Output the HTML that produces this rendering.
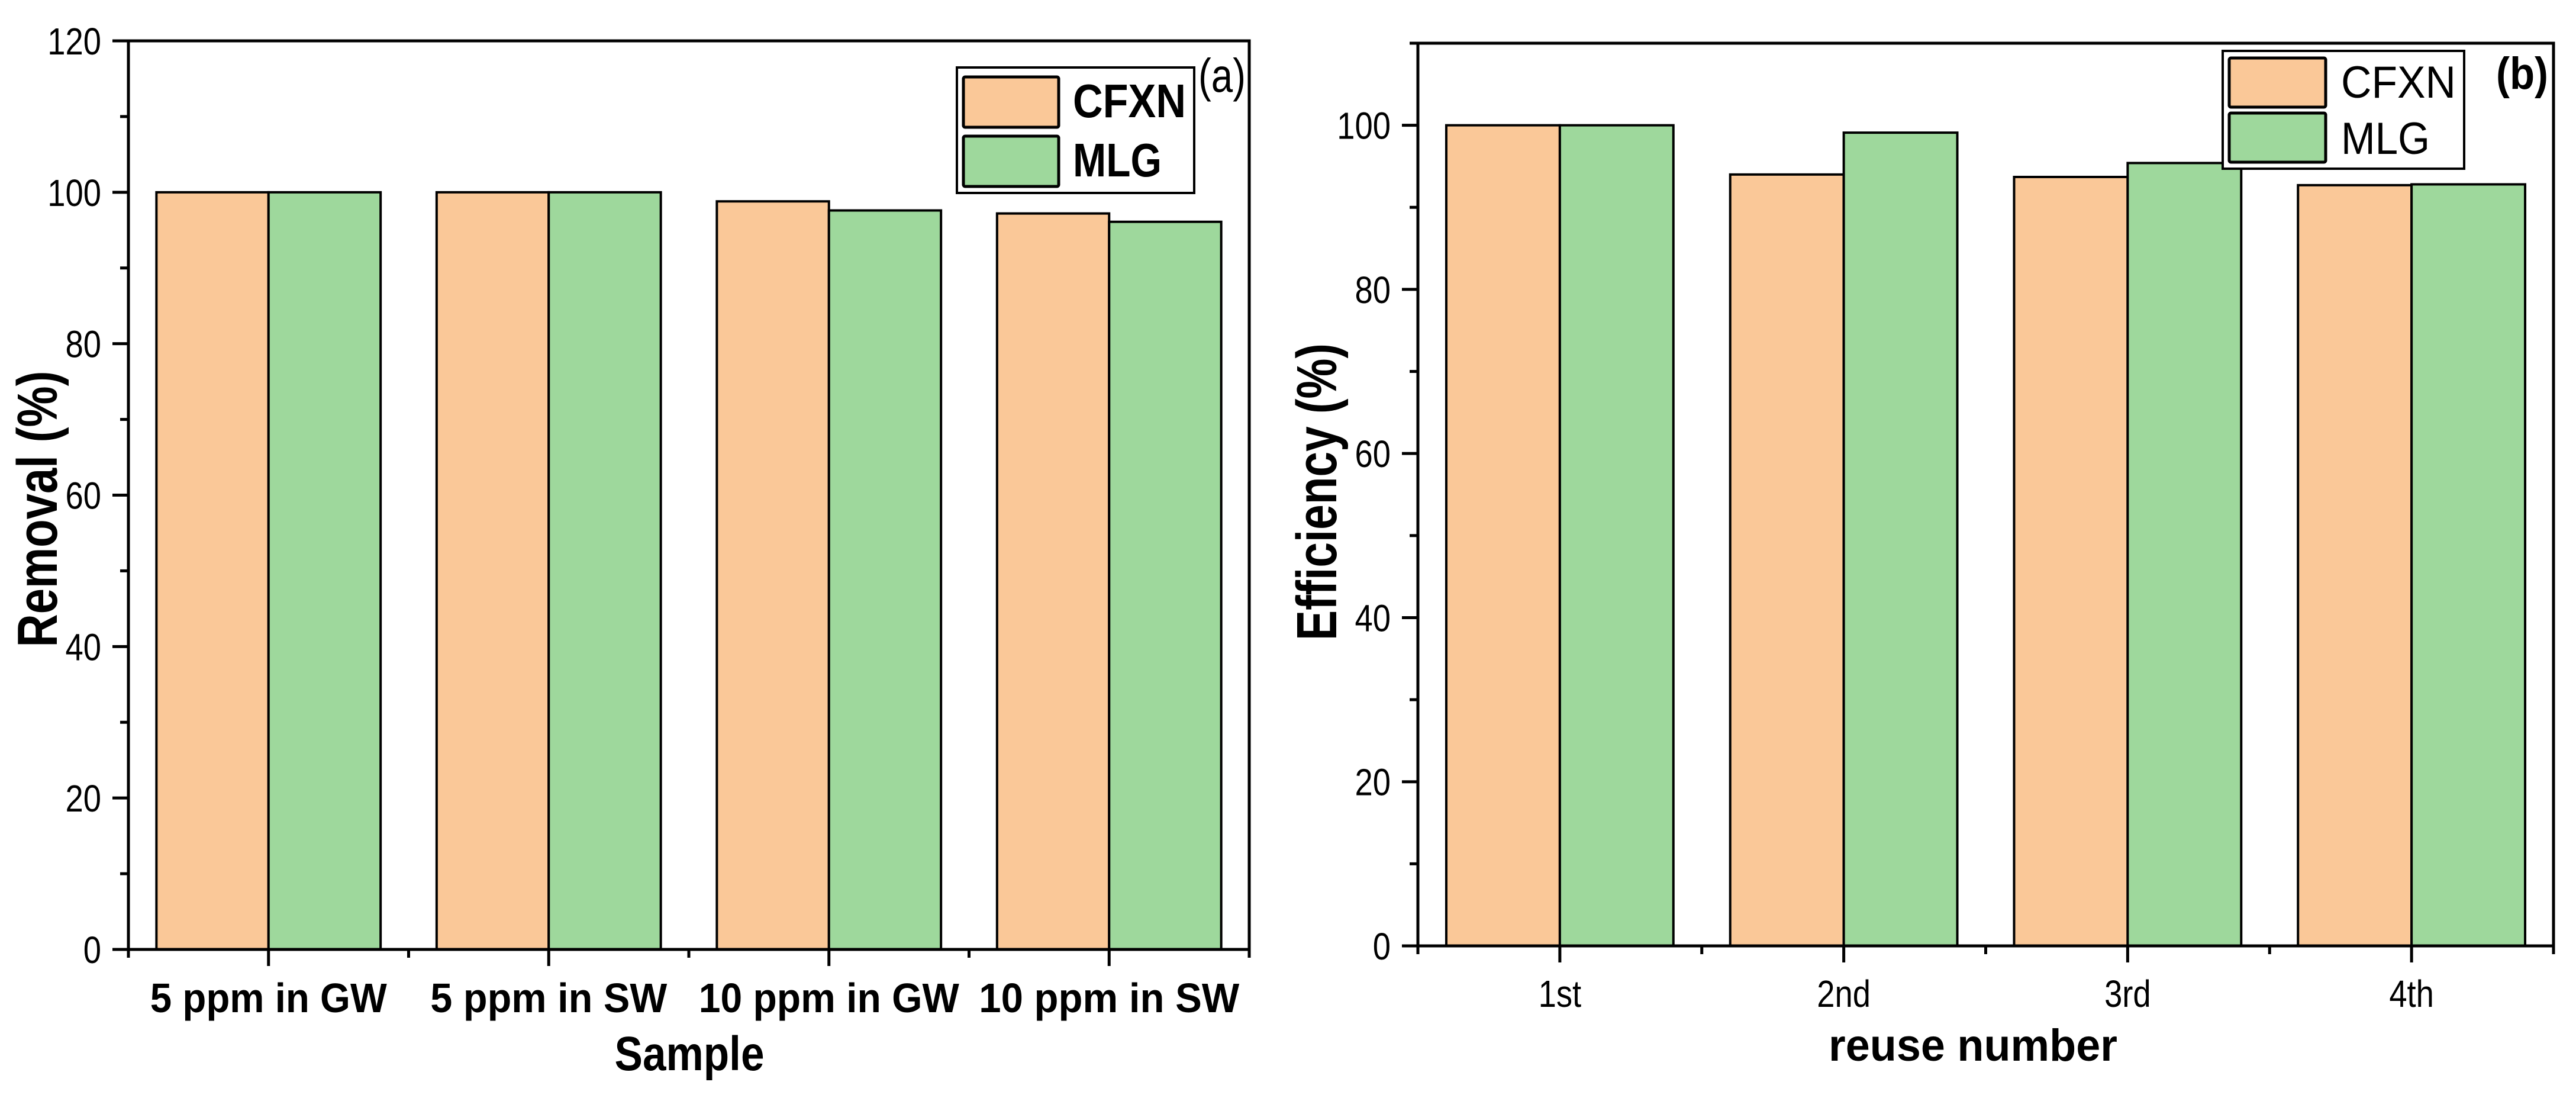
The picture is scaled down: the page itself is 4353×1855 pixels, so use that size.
<!DOCTYPE html>
<html><head><meta charset="utf-8"><style>
html,body{margin:0;padding:0;background:#fff;}
svg{display:block;}
text{font-family:"Liberation Sans",sans-serif;fill:#000;}
</style></head><body>
<svg id="fig" width="4353" height="1855" viewBox="0 0 4353 1855" xmlns="http://www.w3.org/2000/svg"></svg>
<script>
// ---- data ----
const catsA = ["5 ppm in GW","5 ppm in SW","10 ppm in GW","10 ppm in SW"];
const cfxnA = [100, 100, 98.8, 97.2];
const mlgA = [100, 100, 97.6, 96.1];
const ticksA = [0,20,40,60,80,100,120];
const catsB = ["1st","2nd","3rd","4th"];
const cfxnB = [100, 94.0, 93.7, 92.7];
const mlgB = [100, 99.1, 95.4, 92.8];
const ticksB = [0,20,40,60,80,100];
const seriesNames = ["CFXN","MLG"];

const NS="http://www.w3.org/2000/svg";
const svg=document.getElementById('fig');
function mk(tag,attrs,parent){const e=document.createElementNS(NS,tag);for(const k in attrs)e.setAttribute(k,attrs[k]);(parent||svg).appendChild(e);return e;}

function panel(o){
  const g=mk('g',{});
  
  
  const L=o.L,R=o.R,T=o.T,B=o.B;
  const ys=v=>B-(v-0)/(o.ymax)*(B-o.ymaxPix);
  const n=o.cats.length, step=(R-L)/n;
  const xc=i=>L+(i+0.5)*step;
  const bw=0.4*step;
  // bars
  for(let i=0;i<n;i++){
    const r1=mk('rect',{x:xc(i)-bw,y:ys(o.s1[i]),width:bw,height:B-ys(o.s1[i]),fill:'#FAC898',stroke:'#000','stroke-width':4},g);
    
    
    const r2=mk('rect',{x:xc(i),y:ys(o.s2[i]),width:bw,height:B-ys(o.s2[i]),fill:'#9ED89C',stroke:'#000','stroke-width':4},g);
    
    
  }
  // frame
  const fr=mk('rect',{x:L,y:T,width:R-L,height:B-T,fill:'none',stroke:'#000','stroke-width':5},g);
  
  
  // y ticks
  for(let k=0;k<o.ticks.length;k++){
    const v=o.ticks[k];const y=ys(v);
    mk('line',{x1:L-27,y1:y,x2:L,y2:y,stroke:'#000','stroke-width':5},g);
    if(k<o.ticks.length-1 || o.ymax>=v){const ym=ys(v+10); if(v+10<=o.ymax) mk('line',{x1:L-14,y1:ym,x2:L,y2:ym,stroke:'#000','stroke-width':5},g);}
    const t=mk('text',{x:0,y:0,'font-size':64,'text-anchor':'end',transform:`translate(${L-46},${y+23}) scale(0.85,1)`},g);
    t.textContent=v;
    
    
  }
  // x ticks
  for(let i=0;i<=n;i++){const x=L+i*step;mk('line',{x1:x,y1:B,x2:x,y2:B+14,stroke:'#000','stroke-width':5},g);}
  for(let i=0;i<n;i++){
    mk('line',{x1:xc(i),y1:B,x2:xc(i),y2:B+28,stroke:'#000','stroke-width':5},g);
    const t=mk('text',{x:xc(i),y:o.xlabY,'font-size':o.xlabSize,'font-weight':o.xlabBold?'bold':'normal','text-anchor':'middle'},g);
    if(o.xlabLen) {t.setAttribute('textLength',o.xlabLen[i]);t.setAttribute('lengthAdjust','spacingAndGlyphs');}
    else t.setAttribute('transform',`translate(${xc(i)},0) scale(0.85,1) translate(${-xc(i)},0)`);
    t.textContent=o.cats[i];
    
    
  }
  // axis titles
  const xt=mk('text',{x:o.xtX,y:o.xtY,'font-size':o.xtSize,'font-weight':'bold','text-anchor':'middle',textLength:o.xtLen,lengthAdjust:'spacingAndGlyphs'},g);
  xt.textContent=o.xtitle;
  
  
  const yt=mk('text',{x:0,y:0,'font-size':96,'font-weight':'bold','text-anchor':'middle',textLength:o.ytLen,lengthAdjust:'spacingAndGlyphs',transform:`translate(${o.ytX},${o.ytY}) rotate(-90)`},g);
  yt.textContent=o.ytitle;
  
  
  // legend
  const lg=mk('g',{},g);
  
  
  mk('rect',{x:o.lg.x,y:o.lg.y,width:o.lg.w,height:o.lg.h,fill:'#fff',stroke:'#000','stroke-width':4},lg);
  const cols=['#FAC898','#9ED89C'];
  for(let s=0;s<2;s++){
    const sw=mk('rect',{x:o.lg.sx,y:o.lg.sy[s],width:o.lg.sw,height:o.lg.sh,fill:cols[s],stroke:'#000','stroke-width':5,rx:3},lg);
    
    
    const t=mk('text',{x:o.lg.tx,y:o.lg.ty[s],'font-size':o.lg.fs,'font-weight':o.lg.bold?'bold':'normal',textLength:o.lg.tl[s],lengthAdjust:'spacingAndGlyphs'},lg);
    t.textContent=seriesNames[s];
    
    
  }
  const pl=mk('text',{x:o.pl.x,y:o.pl.y,'font-size':o.pl.fs,'font-weight':o.pl.bold?'bold':'normal',textLength:o.pl.len,lengthAdjust:'spacingAndGlyphs'},g);
  pl.textContent=o.pl.t;
  
  
}

panel({name:'panel-a',L:217,R:2111,T:69,B:1604,ymax:120,ymaxPix:69,cats:catsA,s1:cfxnA,s2:mlgA,ticks:ticksA,
  xlabY:1710,xlabSize:70,xlabBold:true,xlabLen:[400,400,440,440],
  xtitle:'Sample',xtX:1165,xtY:1808,xtSize:82,xtLen:253,
  ytitle:'Removal (%)',ytX:96,ytY:860,ytLen:467,
  lg:{x:1617,y:114,w:401,h:212,sx:1628,sy:[130,230],sw:161,sh:85,tx:1813,ty:[198,298],fs:80,bold:true,tl:[191,150]},
  pl:{x:2025,y:155,fs:80,bold:false,len:80,t:'(a)'}});

panel({name:'panel-b',L:2396,R:4315,T:73,B:1598,ymax:110,ymaxPix:73,cats:catsB,s1:cfxnB,s2:mlgB,ticks:ticksB,
  xlabY:1701,xlabSize:64,xlabBold:false,xlabLen:null,
  xtitle:'reuse number',xtX:3334,xtY:1792,xtSize:76,xtLen:488,
  ytitle:'Efficiency (%)',ytX:2258,ytY:831,ytLen:502,
  lg:{x:3756,y:86,w:408,h:199,sx:3767,sy:[98,191],sw:163,sh:83,tx:3956,ty:[165,260],fs:76,bold:false,tl:[194,150]},
  pl:{x:4218,y:150,fs:76,bold:true,len:88,t:'(b)'}});
</script>
</body></html>
